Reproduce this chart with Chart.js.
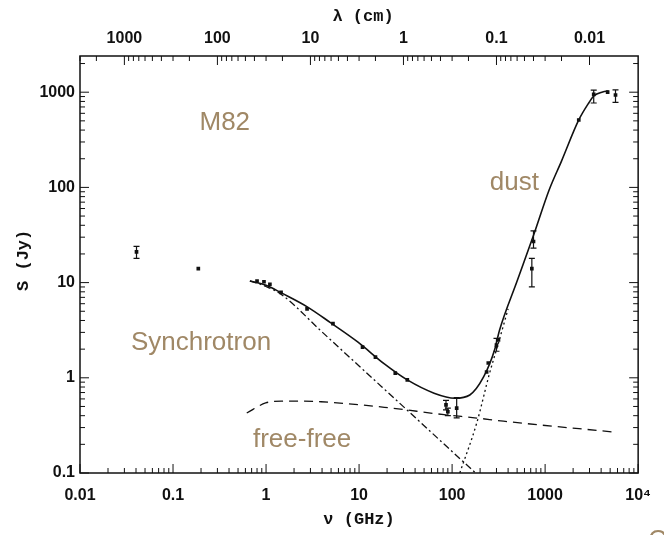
<!DOCTYPE html>
<html>
<head>
<meta charset="utf-8">
<script src="https://cdn.jsdelivr.net/npm/chart.js@4.4.0/dist/chart.umd.min.js"></script>
<style>
  html, body { margin: 0; padding: 0; background: #fff; }
  #wrap { width: 664px; height: 535px; }
</style>
</head>
<body>
<div id="wrap"><canvas id="sed-chart" width="664" height="535"></canvas></div>
<script>
// M82 spectrum, frequency in GHz, flux in Jy
const obsFreq = [0.0405, 0.187, 0.8, 0.95, 1.1, 1.45, 2.76, 5.24, 10.9, 15.0, 24.5, 33, 86, 90, 112, 235, 245, 300, 315, 720, 750, 2300, 3330, 4700, 5710];
const obsFlux = [21, 14, 10.4, 10.2, 9.6, 7.9, 5.3, 3.7, 2.1, 1.65, 1.12, 0.95, 0.52, 0.44, 0.48, 1.15, 1.43, 2.2, 2.5, 14, 27, 510, 950, 1000, 935];
const obsLo   = [18, null, null, null, null, null, null, null, null, null, null, null, 0.46, 0.40, 0.38, null, null, 1.9, null, 9, 23, null, 770, null, 780];
const obsHi   = [24, null, null, null, null, null, null, null, null, null, null, null, 0.58, 0.48, 0.62, null, null, 2.6, null, 18, 35, null, 1050, null, 1060];

const totalFreq = [0.67, 1.0, 1.46, 2.83, 4.97, 9.66, 18.7, 33, 64, 107, 155, 218, 286, 324, 500, 764, 1104, 1500, 2300, 2945, 3330, 4150, 4810];
const totalFlux = [10.4, 9.4, 7.8, 5.5, 3.77, 2.38, 1.4, 0.95, 0.69, 0.61, 0.66, 1.02, 1.96, 3.18, 10.4, 33, 94, 189, 511, 771, 912, 1005, 1030];

const synchFreq = [0.67, 1.0, 1.46, 4, 10, 35, 90, 175];
const synchFlux = [10.4, 9.1, 7.5, 3.03, 1.33, 0.433, 0.185, 0.102];

const ffFreq = [0.62, 0.99, 1.46, 3.9, 18.7, 82, 184, 357, 5310];
const ffFlux = [0.427, 0.544, 0.57, 0.56, 0.49, 0.41, 0.378, 0.35, 0.27];

const dustFreq = [121, 184, 253, 315, 400];
const dustFlux = [0.1, 0.335, 1.12, 2.32, 5.3];

const xTickLabels = {0.01: '0.01', 0.1: '0.1', 1: '1', 10: '10', 100: '100', 1000: '1000', 10000: '10\u2074'};
const yTickLabels = {0.1: '0.1', 1: '1', 10: '10', 100: '100', 1000: '1000'};
const lambdaDecades = [-2, -1, 0, 1, 2, 3];

// labels placed in data coordinates
const notes = [
  {text: 'M82', x: 0.36, y: 474},
  {text: 'dust', x: 468, y: 111},
  {text: 'Synchrotron', x: 0.2, y: 2.31},
  {text: 'free-free', x: 2.44, y: 0.222}
];

const pts = (xs, ys) => xs.map((x, i) => ({x: x, y: ys[i]}));
const isPow10 = v => Math.abs(Math.log10(v) - Math.round(Math.log10(v))) < 1e-6;
const isIntMant = v => {
  const m = v / Math.pow(10, Math.floor(Math.log10(v) + 1e-9));
  return Math.abs(m - Math.round(m)) < 1e-6;
};
const tickFont = {family: 'Liberation Sans', size: 16, weight: 'bold'};

const errorBars = {
  id: 'errorBars',
  afterDatasetsDraw(chart) {
    const {ctx, scales: {x, y}} = chart;
    ctx.save();
    ctx.strokeStyle = '#111';
    ctx.lineWidth = 1.2;
    obsFreq.forEach((f, i) => {
      if (obsLo[i] == null) return;
      const px = x.getPixelForValue(f);
      const p1 = y.getPixelForValue(obsLo[i]);
      const p2 = y.getPixelForValue(obsHi[i]);
      ctx.beginPath();
      ctx.moveTo(px, p1); ctx.lineTo(px, p2);
      ctx.moveTo(px - 3, p1); ctx.lineTo(px + 3, p1);
      ctx.moveTo(px - 3, p2); ctx.lineTo(px + 3, p2);
      ctx.stroke();
    });
    ctx.restore();
  }
};

const frameTicks = {
  id: 'frameTicks',
  afterDraw(chart) {
    const {ctx, chartArea: a, scales} = chart;
    ctx.save();
    ctx.strokeStyle = '#111';
    ctx.lineWidth = 1.5;
    ctx.strokeRect(a.left, a.top, a.right - a.left, a.bottom - a.top);
    ctx.lineWidth = 1;
    ctx.beginPath();
    scales.x.ticks.forEach(t => {
      if (!isIntMant(t.value)) return;
      const p = scales.x.getPixelForValue(t.value);
      const L = isPow10(t.value) ? 9 : 5;
      ctx.moveTo(p, a.bottom); ctx.lineTo(p, a.bottom - L);
    });
    scales.y.ticks.forEach(t => {
      if (!isIntMant(t.value)) return;
      const p = scales.y.getPixelForValue(t.value);
      const L = isPow10(t.value) ? 9 : 5;
      ctx.moveTo(a.left, p); ctx.lineTo(a.left + L, p);
      ctx.moveTo(a.right, p); ctx.lineTo(a.right - L, p);
    });
    scales.x2.ticks.forEach(t => {
      const p = scales.x2.getPixelForValue(t.value);
      const L = isPow10(30 / t.value) ? 9 : 5;
      ctx.moveTo(p, a.top); ctx.lineTo(p, a.top + L);
    });
    ctx.stroke();

    // axis titles
    ctx.fillStyle = '#111';
    ctx.font = 'bold 17px "Liberation Mono"';
    ctx.textAlign = 'center';
    ctx.textBaseline = 'middle';
    ctx.fillText('\u03bb (cm)', (a.left + a.right) / 2 + 4, 17);
    ctx.fillText('\u03bd (GHz)', (a.left + a.right) / 2, 520);
    ctx.save();
    ctx.translate(24, a.top + (a.bottom - a.top) * 0.49);
    ctx.rotate(-Math.PI / 2);
    ctx.fillText('S (Jy)', 0, 0);
    ctx.restore();

    // brown annotations
    ctx.font = '26px "Liberation Sans"';
    ctx.fillStyle = '#a08866';
    notes.forEach(n => {
      const px = scales.x.getPixelForValue(n.x);
      const py = scales.y.getPixelForValue(n.y);
      const w = ctx.measureText(n.text).width;
      ctx.save();
      ctx.fillStyle = '#fff';
      ctx.fillRect(px - w / 2 - 2, py - 12, w + 4, 24);
      ctx.restore();
      ctx.fillText(n.text, px, py);
    });
    ctx.textAlign = 'left';
    ctx.fillText('C', chart.width - 16, chart.height + 6);
    ctx.restore();
  }
};

const lineSet = (label, xs, ys, dash, width) => ({
  label: label,
  data: pts(xs, ys),
  showLine: true,
  borderColor: '#111',
  borderWidth: width,
  borderDash: dash,
  pointRadius: 0,
  cubicInterpolationMode: 'monotone',
  fill: false
});

let sedChart = new Chart(document.getElementById('sed-chart').getContext('2d'), {
  type: 'scatter',
  data: {
    datasets: [
      lineSet('total', totalFreq, totalFlux, [], 1.6),
      lineSet('synchrotron', synchFreq, synchFlux, [7, 3, 2, 3], 1.3),
      lineSet('free-free', ffFreq, ffFlux, [9, 6], 1.3),
      lineSet('dust', dustFreq, dustFlux, [2, 3], 1.3),
      {
        label: 'data',
        data: pts(obsFreq, obsFlux),
        pointRadius: 2.6,
        pointStyle: 'rect',
        backgroundColor: '#111',
        borderColor: '#111',
        borderWidth: 0
      }
    ]
  },
  options: {
    responsive: false,
    animation: false,
    layout: {padding: {left: 0, right: 21, top: 0, bottom: 0}},
    plugins: {legend: {display: false}, tooltip: {enabled: false}},
    scales: {
      x: {
        type: 'logarithmic',
        position: 'bottom',
        min: 0.01, max: 10000,
        afterFit: s => { s.height = 62; },
        grid: {display: true, drawOnChartArea: false, drawTicks: false},
        border: {display: false},
        ticks: {
          autoSkip: false, maxRotation: 0, padding: 13, color: '#111', font: tickFont,
          callback: v => xTickLabels[v] || ''
        }
      },
      x2: {
        type: 'logarithmic',
        position: 'top',
        min: 0.01, max: 10000,
        afterFit: s => { s.height = 56; },
        afterBuildTicks: s => {
          const t = [];
          lambdaDecades.forEach(n => {
            for (let k = 1; k <= 9; k++) {
              const v = 30 / (k * Math.pow(10, n));
              if (v >= 0.01 && v <= 10000) t.push({value: v});
            }
          });
          t.sort((a, b) => a.value - b.value);
          s.ticks = t;
        },
        grid: {display: true, drawOnChartArea: false, drawTicks: false},
        border: {display: false},
        ticks: {
          autoSkip: false, maxRotation: 0, padding: 8, color: '#111', font: tickFont,
          callback: v => {
            const lam = 30 / v;
            return isPow10(lam) ? String(Number(lam.toPrecision(3))) : '';
          }
        }
      },
      y: {
        type: 'logarithmic',
        min: 0.1, max: 2400,
        afterFit: s => { s.width = 80; },
        grid: {display: true, drawOnChartArea: false, drawTicks: false},
        border: {display: false},
        ticks: {
          autoSkip: false, padding: 5, color: '#111', font: tickFont,
          callback: v => yTickLabels[v] || ''
        }
      }
    }
  },
  plugins: [errorBars, frameTicks]
});
</script>
</body>
</html>
